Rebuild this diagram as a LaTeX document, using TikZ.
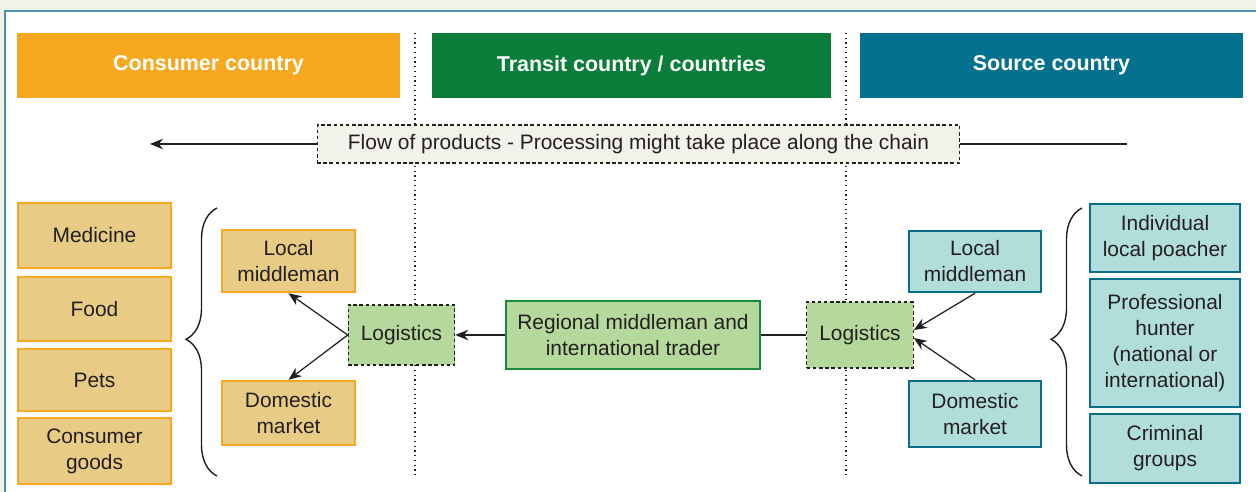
\documentclass[tikz,border=0pt]{standalone}
\usepackage{fontspec}
\setmainfont{Liberation Sans}
\usepackage{xcolor}
\usetikzlibrary{arrows.meta,decorations.pathreplacing}

\definecolor{pagebg}{HTML}{F2F1EA}
\definecolor{panelline}{HTML}{4A93AB}
\definecolor{txt}{HTML}{231F20}
\definecolor{consorange}{HTML}{F8A81F}
\definecolor{transgreen}{HTML}{0B7D3A}
\definecolor{srcteal}{HTML}{04718F}
\definecolor{consfill}{HTML}{E8CC85}
\definecolor{logfill}{HTML}{B5D99C}
\definecolor{regline}{HTML}{1A8A3A}
\definecolor{srcfill}{HTML}{B1DDDA}
\definecolor{srcline}{HTML}{0A6E8A}

\begin{document}
\begin{tikzpicture}[x=0.02cm,y=-0.02cm,
	font=\fontsize{11.9}{14.8}\selectfont, text=txt,
	header/.style={minimum width=7.66cm, minimum height=1.3cm, text=white,
		font=\fontsize{12.2}{14}\selectfont\bfseries},
	consbox/.style={draw=consorange, fill=consfill, line width=1.4pt,
		align=center, inner sep=0pt},
	srcbox/.style={draw=srcline, fill=srcfill, line width=1.4pt,
		align=center, inner sep=0pt},
	logbox/.style={draw=txt, fill=logfill, dash pattern=on 2pt off 1.5pt,
		line width=0.6pt, minimum height=1.2cm, minimum width=2.13cm},
	link/.style={draw=txt, line width=0.7pt},
	arr/.style={link, -{Stealth[length=2.6mm,width=2.1mm]}},
	curly/.style={draw=txt, line width=0.8pt, decorate,
		decoration={brace, amplitude=0.62cm, aspect=0.51}}]

	% background and panel
	\useasboundingbox (0,0) rectangle (1256,492);
	\clip (0,0) rectangle (1256,492);
	\fill[pagebg] (0,0) rectangle (1256,492);
	\draw[fill=white, draw=panelline, line width=1pt] (5,11) rectangle (1270,505);

	% country bands
	\node[header, fill=consorange] (consumer) at (208.5,65.5) {Consumer country};
	\node[header, fill=transgreen, minimum width=7.98cm] (transit) at (631.5,65.5) {Transit country / countries};
	\node[header, fill=srcteal] (source) at (1051.5,65.5) {Source country};

	% borders between countries
	\draw[txt, dotted, line width=0.7pt] (415,33) -- (415,478);
	\draw[txt, dotted, line width=0.7pt] (846,33) -- (846,478);

	% flow of products
	\node[draw=txt, fill=pagebg, dash pattern=on 2pt off 1.5pt, line width=0.6pt,
		minimum width=12.86cm, minimum height=0.76cm] (flow) at (638.5,144)
		{Flow of products - Processing might take place along the chain};
	\coordinate (flowend) at (150,144);
	\coordinate (flowstart) at (1127,144);
	\draw[arr] (flow.west) -- (flowend);
	\draw[link] (flow.east) -- (flowstart);

	% consumer side
	\node[consbox, minimum width=3.06cm, minimum height=1.3cm] (medicine) at (94.5,235.5) {Medicine};
	\node[consbox, minimum width=3.06cm, minimum height=1.28cm] (food) at (94.5,309) {Food};
	\node[consbox, minimum width=3.06cm, minimum height=1.24cm] (pets) at (94.5,380) {Pets};
	\node[consbox, minimum width=3.06cm, minimum height=1.32cm] (goods) at (94.5,451) {Consumer\\goods};
	\draw[curly] (217,476) -- (217,208);

	\node[consbox, minimum width=2.66cm, minimum height=1.24cm] (localC) at (288.5,261) {Local\\middleman};
	\node[consbox, minimum width=2.66cm, minimum height=1.28cm] (domesticC) at (288.5,413) {Domestic\\market};
	\node[logbox] (logC) at (401.5,335) {Logistics};

	% transit
	\node[draw=regline, fill=logfill, line width=1.4pt, align=center,
		minimum width=5.08cm, minimum height=1.36cm, inner sep=0pt] (regional) at (633,335)
		{Regional middleman and\\international trader};

	% source side
	\node[logbox, minimum height=1.32cm] (logS) at (860,335) {Logistics};
	\node[srcbox, minimum width=2.64cm, minimum height=1.22cm] (localS) at (975,261.5) {Local\\middleman};
	\node[srcbox, minimum width=2.64cm, minimum height=1.32cm] (domesticS) at (975,414) {Domestic\\market};

	\draw[curly] (1082,476) -- (1082,208);
	\node[srcbox, minimum width=3cm, minimum height=1.36cm] (poacher) at (1165,238) {Individual\\local poacher};
	\node[srcbox, minimum width=3cm, minimum height=2.56cm] (hunter) at (1165,343) {Professional\\hunter\\(national or\\international)};
	\node[srcbox, minimum width=3cm, minimum height=1.38cm] (criminal) at (1165,448.5) {Criminal\\groups};

	% connectors
	\draw[arr] (logC.west) -- (localC.south);
	\draw[arr] (logC.west) -- (domesticC.north);
	\draw[arr] (regional.west) -- (logC.east);
	\draw[link] (logS.west) -- (regional.east);
	\draw[arr] (localS.south) -- ([yshift=0.1cm]logS.east);
	\draw[arr] (domesticS.north) -- ([yshift=-0.06cm]logS.east);
\end{tikzpicture}
\end{document}
